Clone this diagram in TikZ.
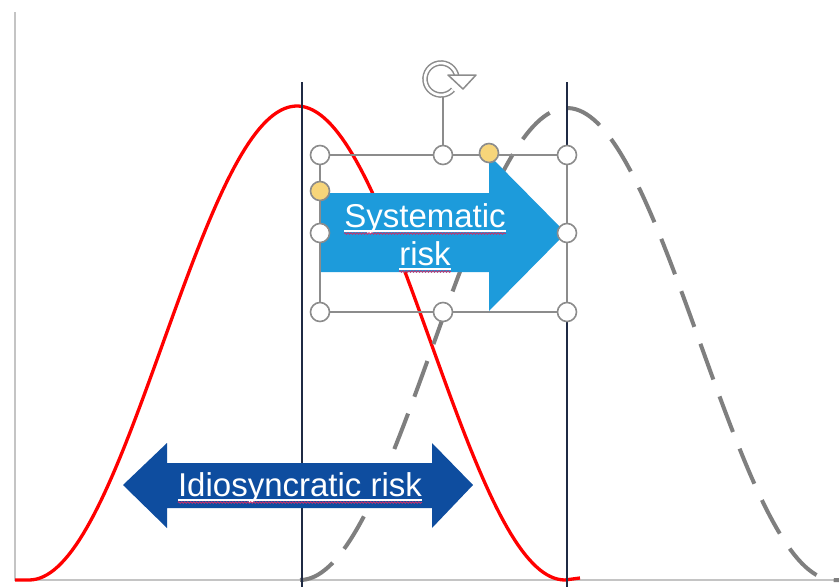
\documentclass[tikz,border=0pt]{standalone}
\usepackage{fontspec}
\setmainfont{Liberation Sans}
\usetikzlibrary{decorations.pathmorphing}
\definecolor{lblue}{HTML}{1D9BDB}
\definecolor{dblue}{HTML}{0E4D9F}
\definecolor{navy}{HTML}{1F2A44}
\definecolor{axisgray}{HTML}{C4C4C4}
\definecolor{dashgray}{HTML}{7F7F7F}
\definecolor{handlegray}{HTML}{8C8C8C}
\definecolor{handleyellow}{HTML}{F7D57A}
\definecolor{squig}{HTML}{C8306A}
\begin{document}
\begin{tikzpicture}[x=1pt,y=-1pt,
  handle/.style={circle, draw=handlegray, line width=1.6pt, fill=white, minimum size=19pt, inner sep=0pt},
  yhandle/.style={handle, fill=handleyellow},
  lbl/.style={text=white, font=\fontsize{33}{38}\selectfont, inner sep=0pt, anchor=base},
  uline/.style={white, line width=1.2pt},
  squiggle/.style={squig, line width=0.8pt, decorate, decoration={snake, amplitude=0.8pt, segment length=3pt}},
  vline/.style={navy, line width=1.4pt},
]
\useasboundingbox (0,0) rectangle (839,587);
\fill[white] (0,0) rectangle (839,587);
% axes
\draw[axisgray, line width=2pt] (15,12) -- (15,580) -- (839,580);
% red curve
\draw[red, line width=3.3pt, line join=round] (15,580) -- plot[domain=29:565, samples=150] (\x,{580-237*(1+cos((\x-297)/268*180))}) -- (580,578);
% gray dashed curve
\draw[dashgray, line width=4pt, dash pattern=on 38pt off 18pt] plot[domain=300:834, samples=150] (\x,{580-236*(1+cos((\x-567)/267*180))}) -- (839,580);
% vertical lines
\draw[vline] (302,82) -- (302,587);
\draw[vline] (567,82) -- (567,587);
% systematic arrow
\fill[lblue] (321,193) -- (489,193) -- (489,155) -- (566,233) -- (489,311) -- (489,272) -- (321,272) -- cycle;
% idiosyncratic double arrow
\fill[dblue] (123,485) -- (167,443) -- (167,463) -- (432,463) -- (432,443) -- (473,485) -- (432,528) -- (432,508) -- (167,508) -- (167,528) -- cycle;
% labels
\node[lbl] (s1) at (425,227) {Systematic};
\node[lbl] (s2) at (425,265) {risk};
\node[lbl] (idio) at (300,496) {Idiosyncratic risk};
\foreach \t in {s1,s2,idio}{
  \draw[uline] ([yshift=-4pt]\t.base west) -- ([yshift=-4pt]\t.base east);
  \draw[squiggle] ([yshift=-6.5pt]\t.base west) -- ([yshift=-6.5pt]\t.base east);
}
% selection box
\draw[handlegray, line width=1.3pt] (320,155) rectangle (567,312);
\coordinate (rottop) at (443,97);
\node[handle] (h1) at (320,155) {};
\node[handle] (h2) at (443,155) {};
\node[handle] (h3) at (567,155) {};
\node[handle] (h4) at (320,233) {};
\node[handle] (h5) at (567,233) {};
\node[handle] (h6) at (320,312) {};
\node[handle] (h7) at (443,312) {};
\node[handle] (h8) at (567,312) {};
\node[yhandle] (y1) at (489,153) {};
\node[yhandle] (y2) at (320,191) {};
\draw[handlegray, line width=1.3pt] (h2) -- (rottop);
% rotation icon
\draw[handlegray, line width=1.5pt, double=white, double distance=2.6pt] (441,79) ++(-8:16) arc(-8:-318:16);
\filldraw[draw=handlegray, fill=white, line width=1.5pt, line join=round] (448,75) -- (476,75) -- (463,89) -- cycle;
\end{tikzpicture}
\end{document}
